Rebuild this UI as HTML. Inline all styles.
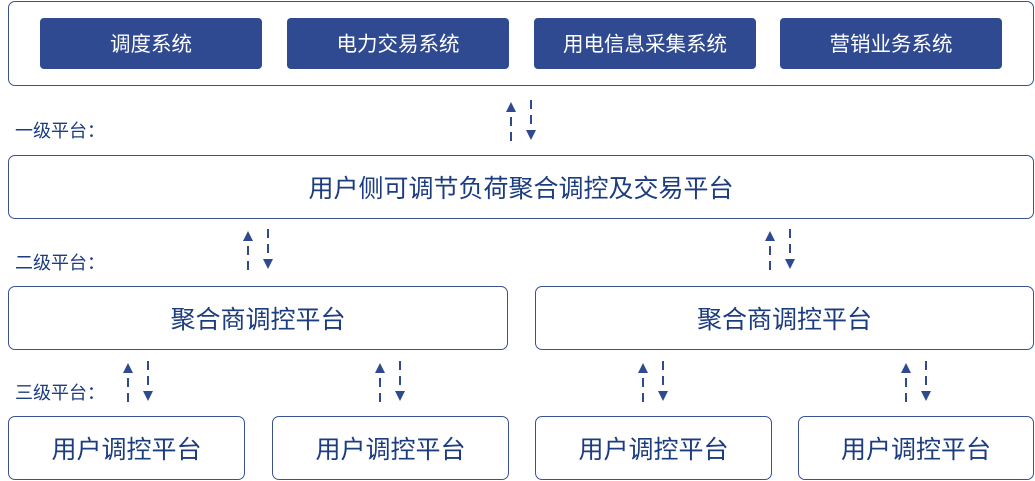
<!DOCTYPE html>
<html><head><meta charset="utf-8"><style>
body{margin:0;width:1035px;height:481px;background:#fff;position:relative;overflow:hidden;font-family:"Liberation Sans","Noto Sans CJK SC",sans-serif;}
.b{position:absolute;box-sizing:border-box;border:1.5px solid #3a5294;border-radius:7px;background:#fff;color:#1c3c80;display:flex;align-items:center;justify-content:center;font-size:25px;}
.f{position:absolute;box-sizing:border-box;background:#304a92;border-radius:4px;color:#fff;display:flex;align-items:center;justify-content:center;font-size:20.5px;padding-bottom:3px;}
.l{position:absolute;left:15px;font-size:18px;color:#1c3c80;line-height:20px;}
svg{position:absolute;left:0;top:0;}
</style></head><body>
<div class="b" style="left:8px;top:1px;width:1026px;height:85px;"></div>
<div class="f" style="left:40px;top:18px;width:222px;height:51px;">调度系统</div>
<div class="f" style="left:287px;top:18px;width:222px;height:51px;">电力交易系统</div>
<div class="f" style="left:534px;top:18px;width:222px;height:51px;">用电信息采集系统</div>
<div class="f" style="left:780px;top:18px;width:222px;height:51px;">营销业务系统</div>
<div class="l" style="top:121px;">一级平台：</div>
<div class="b" style="left:8px;top:155px;width:1026px;height:64px;">用户侧可调节负荷聚合调控及交易平台</div>
<div class="l" style="top:253px;">二级平台：</div>
<div class="b" style="left:8px;top:286px;width:500px;height:64px;">聚合商调控平台</div>
<div class="b" style="left:535px;top:286px;width:499px;height:64px;">聚合商调控平台</div>
<div class="l" style="top:383px;">三级平台：</div>
<div class="b" style="left:8px;top:416px;width:237px;height:64px;">用户调控平台</div>
<div class="b" style="left:272px;top:416px;width:237px;height:64px;">用户调控平台</div>
<div class="b" style="left:535px;top:416px;width:237px;height:64px;">用户调控平台</div>
<div class="b" style="left:798px;top:416px;width:236px;height:64px;">用户调控平台</div>
<svg width="1035" height="481" viewBox="0 0 1035 481">
<defs>
<g id="pr" fill="#304a92" stroke="#304a92">
<polygon points="0,0 -5,10 5,10" stroke="none"/>
<line x1="0" y1="15" x2="0" y2="42" stroke-width="2" stroke-dasharray="9,6"/>
<line x1="20" y1="-2" x2="20" y2="28" stroke-width="2" stroke-dasharray="9,6"/>
<polygon points="15,28 25,28 20,38" stroke="none"/>
</g>
</defs>
<use href="#pr" x="511" y="102"/>
<use href="#pr" x="248" y="231"/>
<use href="#pr" x="770" y="231"/>
<use href="#pr" x="128" y="363"/>
<use href="#pr" x="380" y="363"/>
<use href="#pr" x="643" y="363"/>
<use href="#pr" x="906" y="363"/>
</svg>
</body></html>
